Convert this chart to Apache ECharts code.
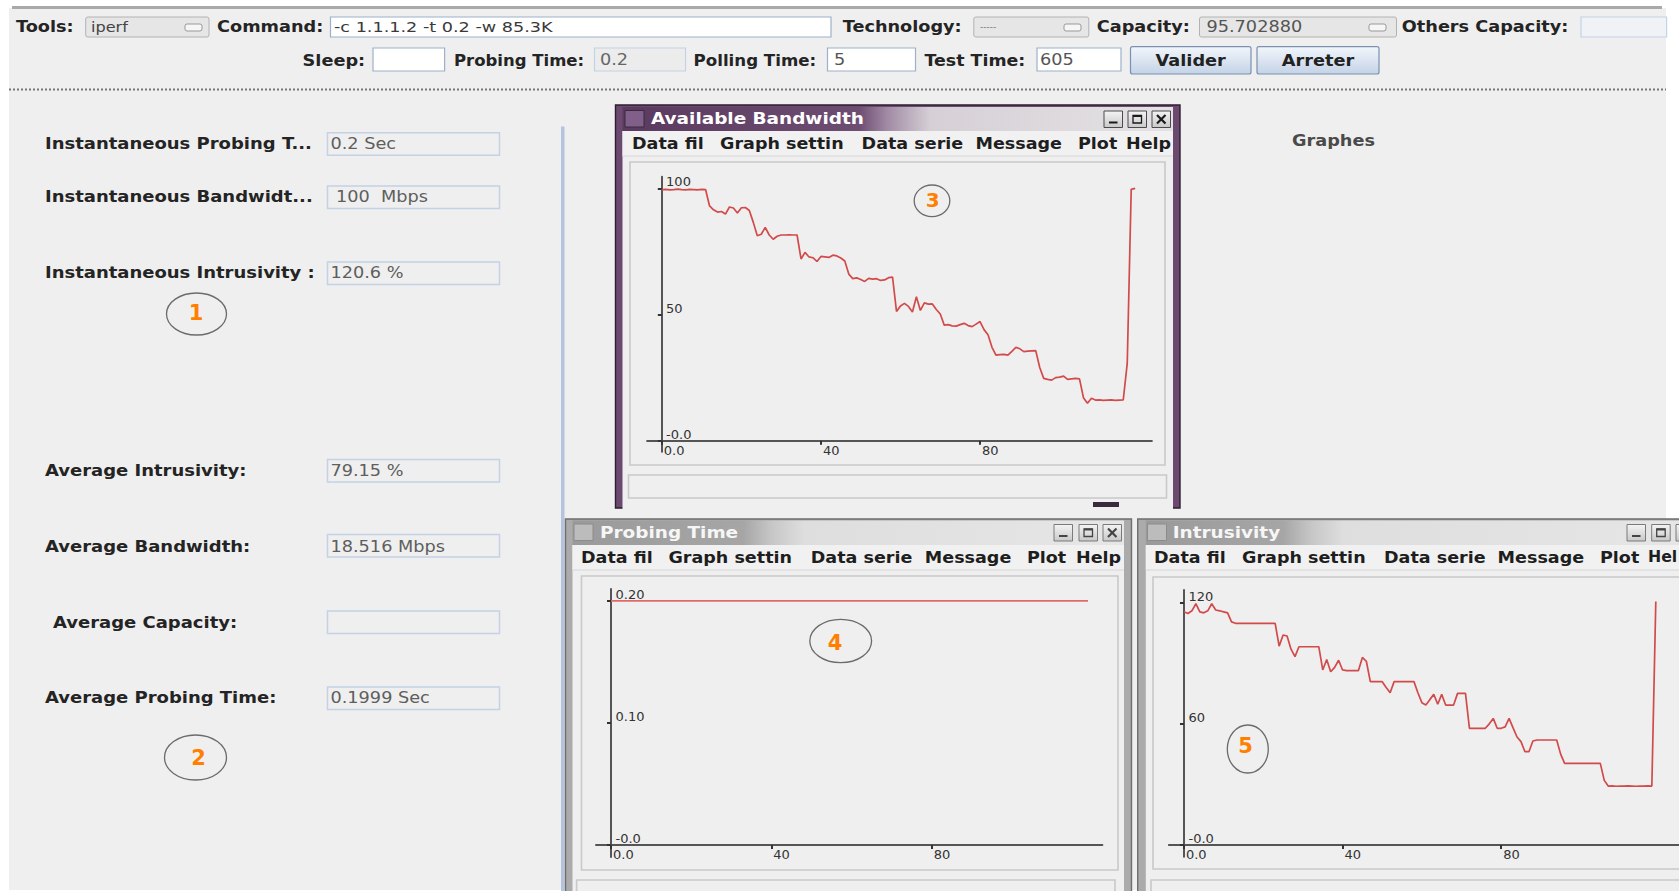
<!DOCTYPE html>
<html><head><meta charset="utf-8">
<script src="https://cdn.jsdelivr.net/npm/echarts@6/dist/echarts.min.js"></script>
<style>html,body{margin:0;padding:0;background:#fff;overflow:hidden}#c{width:1679px;height:891px}</style>
</head><body><div id="c"></div>
<script>
// ---------------- DATA ----------------
const bandwidth = [99.5,99.6,99.4,99.5,99.7,99.5,99.4,99.6,99.5,99.4,99.6,99.5,
  93.0,91.5,90.6,90.8,89.8,92.6,92.2,90.2,92.3,92.4,91.2,86.5,81.2,81.8,84.5,81.5,79.8,81.0,
  81.5,81.5,81.6,81.5,81.5,72.0,74.6,72.8,72.5,71.0,73.0,72.8,72.6,73.5,73.2,72.4,71.2,66.0,
  64.2,64.5,63.9,63.1,64.3,64.0,64.2,63.5,63.7,64.6,64.8,51.2,53.4,54.4,53.2,51.0,57.0,51.6,
  54.6,54.1,54.2,52.0,50.2,45.8,46.0,45.5,45.4,46.0,46.5,45.6,45.2,46.2,47.2,44.0,42.0,37.0,
  33.9,34.1,34.2,33.9,35.4,37.0,36.4,35.3,35.5,35.6,35.7,29.0,24.7,24.3,24.0,25.0,25.2,25.6,
  24.3,24.5,24.7,24.5,17.0,14.8,16.8,16.1,16.2,16.0,16.1,16.2,16.0,16.1,16.2,30.6,99.6,100.0];
const probingTime = [0.2,0.2,0.2,0.2,0.2,0.2,0.2,0.2,0.2,0.2,0.2,0.2,0.2,0.2,0.2,0.2,0.2,0.2,0.2,0.2,
  0.2,0.2,0.2,0.2,0.2,0.2,0.2,0.2,0.2,0.2,0.2,0.2,0.2,0.2,0.2,0.2,0.2,0.2,0.2,0.2,
  0.2,0.2,0.2,0.2,0.2,0.2,0.2,0.2,0.2,0.2,0.2,0.2,0.2,0.2,0.2,0.2,0.2,0.2,0.2,0.2,
  0.2,0.2,0.2,0.2,0.2,0.2,0.2,0.2,0.2,0.2,0.2,0.2,0.2,0.2,0.2,0.2,0.2,0.2,0.2,0.2,
  0.2,0.2,0.2,0.2,0.2,0.2,0.2,0.2,0.2,0.2,0.2,0.2,0.2,0.2,0.2,0.2,0.2,0.2,0.2,0.2,
  0.2,0.2,0.2,0.2,0.2,0.2,0.2,0.2,0.2,0.2,0.2,0.2,0.2,0.2,0.2,0.2,0.2,0.2,0.2,0.2];
const intrusivity = [115.5,114.7,116.0,119.5,115.5,115.0,116.0,119.5,116.4,116.0,115.5,115.0,110.5,
  109.8,109.8,109.8,109.8,109.8,109.8,109.8,109.8,109.8,109.8,109.8,
  98.5,104.0,103.5,97.0,93.3,98.2,98.2,98.2,98.2,98.2,98.2,
  86.7,91.9,85.8,88.0,91.5,86.7,86.4,86.4,86.4,86.4,92.9,91.0,
  80.9,80.9,80.9,80.9,78.0,75.4,80.9,80.9,80.9,80.9,80.9,80.9,
  75.4,70.5,69.3,72.0,74.6,69.7,74.6,69.3,69.3,69.3,75.1,75.1,75.1,
  57.8,57.8,57.8,57.8,57.8,60.0,62.7,57.8,57.8,58.5,62.7,58.0,53.5,51.2,46.2,46.2,51.5,
  52.0,52.0,52.0,52.0,52.0,52.0,45.0,
  40.4,40.4,40.4,40.4,40.4,40.4,40.4,40.4,40.4,40.4,32.0,
  29.2,29.3,29.1,29.2,29.2,29.3,29.2,29.1,29.2,29.2,29.3,29.2,120.6];
const xTickValues = [0, 40, 80];
const xTickLabels = ['0.0', '40', '80'];
const bwTickValues = [0, 50, 100];
const bwTickLabels = ['-0.0', '50', '100'];
const ptTickValues = [0, 0.1, 0.2];
const ptTickLabels = ['-0.0', '0.10', '0.20'];
const inTickValues = [0, 60, 120];
const inTickLabels = ['-0.0', '60', '120'];

// ---------------- GUI helpers ----------------
const FF = '"DejaVu Sans", sans-serif';
const els = [];
let zc = 0;
function add(e){ e.z = -10; e.z2 = zc++; e.silent = true; els.push(e); }
function R(x,y,w,h,fill,stroke,lw,r){ add({type:'rect', shape:{x:x,y:y,width:w,height:h,r:r||0}, style:{fill:fill||'none', stroke:stroke||'none', lineWidth:lw||1}}); }
function L(x1,y1,x2,y2,stroke,lw,dash){ add({type:'line', shape:{x1:x1,y1:y1,x2:x2,y2:y2}, style:{stroke:stroke, lineWidth:lw||1, lineDash:dash||null}}); }
function T(x,y,s,size,bold,color,sx,align){ add({type:'text', x:x, y:y, scaleX:sx||1, style:{text:s, fill:color||'#222', font:(bold?'bold ':'')+size+'px '+FF, align:align||'left', verticalAlign:'middle'}}); }
function E(cx,cy,rx,ry){ add({type:'ellipse', shape:{cx:cx,cy:cy,rx:rx,ry:ry}, style:{fill:'none', stroke:'#6b6b6b', lineWidth:1.3}}); }
function lin(dir, stops){ return {type:'linear', x:0, y:0, x2:dir==='h'?1:0, y2:dir==='h'?0:1, colorStops:stops.map(function(s){return {offset:s[0], color:s[1]};})}; }

// page background panel
R(9, 8, 1657, 882, '#efefef');
R(12, 6, 1650, 3, '#a9a9a9');
L(9, 89.5, 1666, 89.5, '#767676', 2, [2,2]);

// top row 1
const LB = '#242424';
T(16, 27, 'Tools:', 15, true, LB, 1.18);
R(85.7, 17, 123.3, 20, '#e6e6e6', '#b2b2b2', 1, 2); T(91, 27, 'iperf', 14, false, '#444', 1.15);
R(185, 24, 17, 7, '#f6f6f6', '#999', 1, 2);
T(217, 27, 'Command:', 15, true, LB, 1.18);
R(330.5, 17, 500.5, 20, '#ffffff', '#9db1cc', 1.2);
T(334, 27, '-c 1.1.1.2 -t 0.2 -w 85.3K', 14, false, '#3a3a3a', 1.26);
T(842.7, 27, 'Technology:', 15, true, LB, 1.18);
R(973.8, 17, 115, 20, '#e6e6e6', '#b2b2b2', 1, 2); T(980, 27, '-----', 9, false, '#777', 1);
R(1064, 24, 17, 7, '#f6f6f6', '#999', 1, 2);
T(1096.8, 27, 'Capacity:', 15, true, LB, 1.18);
R(1199.5, 17, 197, 20, '#e6e6e6', '#b2b2b2', 1, 2); T(1206.5, 27, '95.702880', 15, false, '#555', 1.18);
R(1369, 24, 17, 7, '#f6f6f6', '#999', 1, 2);
T(1401.8, 27, 'Others Capacity:', 15, true, LB, 1.18);
R(1581, 17, 85.6, 20, '#f0f2f6', '#c4d2e6', 1.2);

// top row 2
T(302.6, 61, 'Sleep:', 15, true, LB, 1.18);
R(373, 48, 71.6, 23, '#ffffff', '#9db1cc', 1.2);
T(454, 61, 'Probing Time:', 15, true, LB, 1.1);
R(594.5, 48, 91, 23, '#ececec', '#c4d2e6', 1.2); T(600, 60, '0.2', 15, false, '#666', 1.18);
T(693.6, 61, 'Polling Time:', 15, true, LB, 1.11);
R(827.5, 48, 88, 23, '#ffffff', '#9db1cc', 1.2); T(834, 60, '5', 15, false, '#555', 1.18);
T(924.5, 61, 'Test Time:', 15, true, LB, 1.16);
R(1037, 48, 84, 23, '#ffffff', '#9db1cc', 1.2); T(1040, 60, '605', 15, false, '#555', 1.18);
R(1130.5, 46.7, 120.5, 27.3, lin('v', [[0,'#f2f6fb'],[1,'#c4d3e7']]), '#7b91b1', 1.2, 2);
T(1190.7, 60.5, 'Valider', 15, true, '#222', 1.18, 'center');
R(1257, 46.7, 122, 27.3, lin('v', [[0,'#f2f6fb'],[1,'#c4d3e7']]), '#7b91b1', 1.2, 2);
T(1318, 60.5, 'Arreter', 15, true, '#222', 1.18, 'center');

// left panel
const leftRows = [
  [45, 144.3, 132.8, 'Instantaneous Probing T...', 330.5, '0.2 Sec'],
  [45, 197.3, 186, 'Instantaneous Bandwidt...', 336, '100\u00a0 Mbps'],
  [45, 273.3, 262, 'Instantaneous Intrusivity :', 330.5, '120.6 %'],
  [45, 470.7, 459.5, 'Average Intrusivity:', 330.5, '79.15 %'],
  [45, 546.7, 534.5, 'Average Bandwidth:', 330.5, '18.516 Mbps'],
  [53, 623.3, 611, 'Average Capacity:', 330.5, ''],
  [45, 698.3, 687, 'Average Probing Time:', 330.5, '0.1999 Sec']
];
leftRows.forEach(function(r){
  T(r[0], r[1], r[3], 15, true, LB, 1.2);
  R(327.5, r[2], 172, 22.5, '#efefef', '#c4d2e6', 1.5);
  if (r[5]) T(r[4], r[1], r[5], 15, false, '#5e5e5e', 1.18);
});
R(561, 126.5, 3.5, 770, '#b4c4de');
T(1292, 141, 'Graphes', 15, true, '#4a4a4a', 1.18);

// windows
function win(o){
  const active = o.active;
  R(o.x, o.y, o.w, o.h, active ? '#6c4a70' : '#ababab', active ? '#2e1e30' : '#6e6e6e', 1.4);
  R(o.ix, o.ty, o.iw, o.th, active
     ? lin('h', [[0,'#5b3a60'],[o.d0,'#6e4d73'],[o.d0+0.05,'#a08aa4'],[o.d1,'#d6d0d6'],[1,'#e4e2e4']])
     : lin('h', [[0,'#9a9a9a'],[o.d0,'#a6a6a6'],[o.d0+0.05,'#c6c6c6'],[o.d1,'#dedede'],[1,'#e6e6e6']]));
  R(o.ix, o.ty + o.th, o.iw, o.h, '#efefef');
  R(o.ix, o.ty + o.th, o.iw, 25, '#f1f1f1');
  L(o.ix, o.ty + o.th + 25, o.ix + o.iw, o.ty + o.th + 25, '#d6d6d6', 1);
  R(o.iconX, o.ty + 3.5, 19, 16.5, active ? '#80608a' : '#bcbcbc', active ? '#3a2a3c' : '#8c8c8c', 1);
  T(o.titleX, o.ty + o.th / 2, o.title, 15, true, active ? '#ffffff' : '#f6f6f6', 1.23);
  o.btn.forEach(function(bx, i){
    const by = o.ty + 4, bw = 18.5, bh = 16.5;
    R(bx, by, bw, bh, lin('v', [[0,'#f4f4f4'],[1,'#c9c9c9']]), active ? '#4a4a4a' : '#7a7a7a', 1);
    const gc = active ? '#1a1a1a' : '#444';
    if (i === 0) L(bx + 5, by + bh - 5, bx + bw - 5, by + bh - 5, gc, 2);
    if (i === 1) { R(bx + 5, by + 4.5, bw - 10, bh - 9, 'none', gc, 1.3); L(bx + 5, by + 5, bx + bw - 5, by + 5, gc, 2); }
    if (i === 2) { L(bx + 5, by + 4, bx + bw - 5, by + bh - 4, gc, 2.2); L(bx + bw - 5, by + 4, bx + 5, by + bh - 4, gc, 2.2); }
  });
  const my = o.ty + o.th + 12.5;
  const labels = o.menuLabels || ['Data fil', 'Graph settin', 'Data serie', 'Message', 'Plot', 'Help'];
  o.menu.forEach(function(mx, i){ T(mx, my, labels[i], 15, true, '#1e1e1e', (o.menuScale && o.menuScale[i]) || 1.17); });
  R(o.panel[0], o.panel[1], o.panel[2], o.panel[3], 'none', '#c9c9c9', 1.6);
  R(o.status[0], o.status[1], o.status[2], o.status[3], '#efefef', '#c9c9c9', 1.6);
}
win({active:true, x:615.5, y:105, w:564.5, h:403, ix:622.5, iw:550.5, ty:107, th:24, d0:0.43, d1:0.56,
     iconX:625, titleX:651, title:'Available Bandwidth', btn:[1104,1128,1152],
     menu:[632,720,861.6,975.5,1078,1126], panel:[630,162,535,303], status:[628.5,475,538,23]});
R(1093, 502, 26, 5, '#3a2a3c');
win({active:false, x:565.5, y:519, w:566, h:390, ix:572.5, iw:551.5, ty:520.5, th:24.5, d0:0.31, d1:0.42,
     iconX:574, titleX:600, title:'Probing Time', btn:[1054,1079,1103],
     menu:[581,668.4,810.8,924.8,1026.9,1076], panel:[581.5,576,536.5,294], status:[576.6,880,538.4,22]});
win({active:false, x:1137.7, y:519, w:560, h:390, ix:1145.8, iw:550, ty:520.5, th:24.5, d0:0.25, d1:0.36,
     iconX:1147.5, titleX:1172.7, title:'Intrusivity', btn:[1627,1651.7,1676],
     menuLabels:['Data fil', 'Graph settin', 'Data serie', 'Message', 'Plot', 'Hel'],
     menuScale:[1.17,1.17,1.17,1.17,1.17,1.05],
     menu:[1154,1242,1384,1497.6,1600,1648], panel:[1153,577,540,292], status:[1151,880,540,22]});

// annotation ellipses
E(196.5, 314, 30, 21); T(196, 313, '1', 21, true, '#ff8000', 1, 'center');
E(195.5, 757.5, 31, 22.5); T(198.5, 758, '2', 21, true, '#ff8000', 1, 'center');
E(932, 200.8, 17.8, 15.8); T(932.6, 200, '3', 20, true, '#ff8000', 1, 'center');
E(840.7, 641, 30.9, 21.7); T(835, 643, '4', 21, true, '#ff8000', 1, 'center');
E(1247.8, 749, 20.5, 24); T(1245.5, 745.5, '5', 21, true, '#ff8000', 1, 'center');

// ---------------- charts ----------------
function lookup(vals, labs, v){ for (let i = 0; i < vals.length; i++) if (Math.abs(vals[i] - v) < 1e-9) return labs[i]; return ''; }
function xAx(idx, min, max, margin){
  return {type:'value', gridIndex:idx, min:min, max:max,
    axisLine:{show:true, onZero:true, lineStyle:{color:'#555', width:2}},
    axisTick:{show:true, customValues:xTickValues, length:4, lineStyle:{color:'#333', width:2}},
    axisLabel:{show:true, customValues:xTickValues, formatter:function(v){return lookup(xTickValues, xTickLabels, v);},
      color:'#333', fontSize:13, fontFamily:'DejaVu Sans', align:'left', verticalAlign:'top', margin:margin, padding:[0,0,0,2]},
    splitLine:{show:false}};
}
function yAx(idx, min, max, vals, labs, margin){
  return {type:'value', gridIndex:idx, min:min, max:max,
    axisLine:{show:true, onZero:true, lineStyle:{color:'#555', width:2}},
    axisTick:{show:true, customValues:vals, length:4, lineStyle:{color:'#333', width:2}},
    axisLabel:{show:true, inside:true, customValues:vals, formatter:function(v){return lookup(vals, labs, v);},
      color:'#333', fontSize:13, fontFamily:'DejaVu Sans', align:'left', verticalAlign:'bottom', margin:margin},
    splitLine:{show:false}};
}
function pts(arr){ return arr.map(function(v, i){ return [i, v]; }); }

const chart = echarts.init(document.getElementById('c'), null, {renderer:'svg', width:1679, height:891});
chart.setOption({
  animation:false,
  backgroundColor:'#ffffff',
  graphic:{elements:els},
  grid:[
    {left:647.1, top:176.7, width:504.8, height:275.1, outerBoundsMode:'none', containLabel:false},
    {left:596, top:589, width:506.4, height:268, outerBoundsMode:'none', containLabel:false},
    {left:1168.9, top:590, width:510.7, height:266.7, outerBoundsMode:'none', containLabel:false}
  ],
  xAxis:[xAx(0, -3.7, 123.2, -8), xAx(1, -3.74, 122.6, -9), xAx(2, -3.8, 125, -8.7)],
  yAxis:[yAx(0, -4.4, 104.6, bwTickValues, bwTickLabels, 19),
         yAx(1, -0.0098, 0.2098, ptTickValues, ptTickLabels, 19.5),
         yAx(2, -5.8, 126.3, inTickValues, inTickLabels, 19.6)],
  series:[
    {type:'line', xAxisIndex:0, yAxisIndex:0, data:pts(bandwidth), showSymbol:false, lineStyle:{color:'#d24a4a', width:1.7}},
    {type:'line', xAxisIndex:1, yAxisIndex:1, data:pts(probingTime), showSymbol:false, lineStyle:{color:'#e06a6a', width:1.8}},
    {type:'line', xAxisIndex:2, yAxisIndex:2, data:pts(intrusivity), showSymbol:false, lineStyle:{color:'#d24a4a', width:1.7}}
  ]
});
</script></body></html>
